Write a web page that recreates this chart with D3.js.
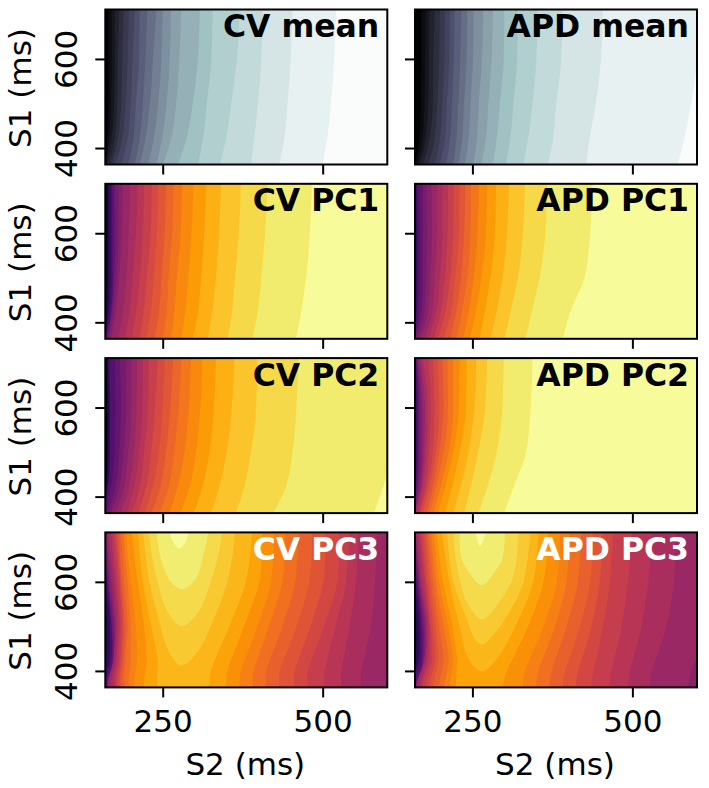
<!DOCTYPE html>
<html><head><meta charset="utf-8">
<style>html,body{margin:0;padding:0;background:#fff}svg{display:block}text{font-family:"DejaVu Sans",sans-serif}</style>
<script src="https://cdn.jsdelivr.net/npm/d3@7"></script>
</head><body><svg id="c" width="709" height="788"></svg>
<script>
const s2Ticks=[250,500], s1Ticks=[400,600];
const s2Domain=[160.3,601], s1Domain=[363,711];
// S1 values at which the S2 position of each contour was read
const s1Samples=[712,600,500,420,362];
const pc3LeftS1=[715,600,500,427,352];
const pc3RightS1=[352,400,500,600,715];

// monotone panels: one row per contour level, S2 at each s1Samples value
const cvMean=[[165,165,165,163,158],[170,170,169,166,160],[175,175,174,170,162],[182,180,179,175,166],[189,187,185,180,170],[197,195,192,187,175],[206,203,200,195,185],[214,213,208,204,196],[226,223,219,214,206],[240,235,230,223,214],[250,248,243,236,227],[263,261,256,249,240],[279,276,271,263,250],[308,305,297,287,274],[328,326,319,313,305],[370,366,357,349,339],[406,404,399,393,388],[453,450,445,440,432],[521,518,513,507,500]];
const apdMean=[[170,170,169,167,160],[177,176,175,172,163],[183,182,181,177,167],[191,189,188,183,173],[199,198,195,191,181],[207,206,203,199,191],[215,214,210,207,199],[222,221,218,215,209],[233,231,228,225,220],[242,241,237,234,228],[252,251,247,244,238],[267,265,260,257,251],[282,280,275,271,264],[300,299,293,288,282],[321,320,314,309,302],[352,350,344,337,329],[391,389,381,376,368],[454,451,443,433,428],[610,602,592,581,571]];
const cvPc1=[[161,161,161,160,155],[162,162,162,161,156],[164,164,164,162,157],[166,166,166,164,158],[168,168,168,165,159],[170,170,170,167,160],[172,172,172,169,161],[175,176,174,170,163],[181,181,178,173,166],[188,186,182,177,169],[199,197,193,188,180],[211,208,203,198,190],[221,219,214,208,201],[233,231,225,220,214],[243,241,236,231,224],[255,253,248,244,237],[267,265,259,256,250],[280,278,272,268,263],[298,295,290,285,279],[318,315,310,305,297],[341,338,333,327,320],[372,369,363,358,351],[414,410,404,398,390],[483,480,474,466,458]];
const apdPc1=[[160,160,160,160,153],[161,161,161,160,154],[161,162,162,161,154],[162,162,162,161,155],[162,163,163,162,155],[163,164,164,163,156],[167,168,168,166,158],[172,173,173,170,159],[178,179,178,175,163],[186,187,184,180,168],[195,195,191,187,174],[203,203,199,193,181],[212,211,207,200,189],[221,220,215,207,196],[230,229,223,216,204],[239,237,232,224,215],[248,247,242,233,225],[260,258,252,244,235],[273,271,264,255,246],[287,285,278,269,261],[307,304,297,287,278],[332,329,321,309,300],[367,364,355,342,333],[438,434,425,402,391]];
const cvPc2=[[161,162,162,160,152],[162,163,163,161,153],[163,164,164,162,154],[164,166,165,163,155],[165,167,167,164,155],[166,168,168,164,156],[175,176,175,169,160],[183,185,182,176,164],[193,193,189,182,169],[201,201,196,189,176],[210,209,205,197,184],[219,218,213,205,193],[228,227,221,214,201],[242,238,232,224,211],[253,250,244,234,221],[266,262,255,246,232],[279,275,268,259,245],[294,291,284,273,260],[312,309,302,292,277],[333,330,323,312,298],[362,358,350,338,325],[398,396,388,377,364],[462,459,453,442,422],[656,634,612,594,580]];
const apdPc2=[[160,160,160,159,150],[160,161,161,160,151],[160,161,161,160,151],[161,162,162,160,152],[161,162,162,161,152],[161,163,163,161,153],[162,165,165,162,154],[163,167,167,164,156],[164,170,170,166,158],[166,172,172,168,159],[168,176,175,170,161],[172,180,178,172,163],[180,185,182,176,166],[188,191,188,179,168],[195,198,193,183,172],[203,205,198,188,178],[211,212,205,193,183],[220,220,213,200,189],[230,229,220,207,196],[241,240,230,218,207],[256,253,244,231,220],[273,270,259,247,237],[299,297,288,273,259],[344,341,334,314,299]];

// PC3 panels: contour levels as [S2,S1] points or left/right branches
const cvPc3Low=[
 [[158,520],[160,505],[161,483],[160,455],[158,440]],
 [[158,560],[162,525],[163,483],[162,440],[158,412]],
 [[158,596],[164,540],[166,483],[165,427],[158,393]],
 [[158,623],[165,559],[168,483],[167,420],[158,382]],
 [[158,649],[163,600],[170,483],[168,412],[158,372]],
 [[158,671],[164,600],[171,483],[170,408],[159,363]],
 [[158,701],[166,600],[173,483],[171,404],[161,355]],
 [[161,717],[167,600],[175,483],[173,400],[164,355]]];
const cvPc3Left=[[162,170,176,173,169],[165,173,178,176,174],[169,176,181,178,178],[172,179,183,181,182],[175,182,186,184,184],[178,184,188,186,188],[181,186,191,189,191],[184,190,195,192,197],[188,195,200,200,203],[192,200,208,210,210],[201,211,221,225,225],[211,219,232,242,246]];
const cvPc3Right=[[593,604,635,666,682],[554,560,575,582,585],[523,529,542,552,556],[497,503,520,537,541],[471,477,502,523,526],[450,456,481,501,505],[426,433,459,479,484],[406,412,437,457,462],[385,392,416,437,442],[364,372,398,419,424],[344,351,377,401,406],[318,325,354,380,390]];
const cvPc3High=[
 [[219,715],[224,653],[229,600],[242,525],[260,442],[279,412],[302,438],[328,510],[351,600],[360,668],[363,715]],
 [[228,715],[234,653],[242,600],[258,532],[281,501],[305,531],[325,600],[338,668],[343,715]],
 [[240,715],[247,653],[263,600],[281,583],[302,608],[315,668],[322,715]],
 [[260,715],[266,690],[276,675],[286,690],[291,715]]];

const apdPc3Low=[
 [[157,520],[160,505],[161,483],[160,460],[157,445]],
 [[157,560],[162,525],[163,483],[162,440],[157,410]],
 [[157,600],[164,545],[166,483],[165,425],[157,393]],
 [[157,630],[164,565],[168,483],[166,420],[157,382]],
 [[157,655],[163,600],[170,483],[168,412],[157,372]],
 [[157,680],[164,600],[172,483],[170,408],[159,363]],
 [[157,705],[166,600],[174,483],[171,404],[161,355]],
 [[160,717],[167,600],[176,483],[173,400],[164,355]]];
const apdPc3Left=[[161,168,177,175,166],[163,170,179,177,170],[166,173,181,180,173],[168,176,183,183,176],[171,178,185,187,181],[175,181,189,192,187],[178,185,193,197,194],[181,189,198,205,202],[185,193,205,213,210],[189,198,212,220,219],[194,204,219,226,229]];
const apdPc3Right=[[579,592,623,647,657],[519,530,553,565,569],[486,496,514,525,530],[457,467,483,493,499],[428,439,454,465,470],[405,415,436,449,454],[384,395,418,434,439],[364,374,397,415,420],[343,353,379,397,402],[322,332,361,382,387],[291,304,337,361,369]];
const apdPc3High=[
 [[202,715],[214,600],[230,500],[244,427],[265,399],[288,427],[317,500],[345,600],[353,715]],
 [[210,715],[214,653],[220,600],[239,525],[254,472],[265,459],[280,476],[311,540],[330,600],[341,715]],
 [[220,715],[224,653],[231,600],[244,547],[265,516],[288,547],[311,600],[319,653],[322,715]],
 [[230,715],[233,653],[244,623],[265,592],[285,623],[297,653],[301,715]],
 [[253,715],[258,694],[262,680],[267,694],[273,715]]];

const boneT=[0,0.375,0.746,1];
const boneRGB=["#000000","#515171","#a6c8c8","#ffffff"];
const titles=[["CV mean","APD mean"],["CV PC1","APD PC1"],["CV PC2","APD PC2"],["CV PC3","APD PC3"]];

const bone=d3.scaleLinear().domain(boneT).range(boneRGB).interpolate(d3.interpolateRgb);
const colLeft=[105.3,415], colW=282, rowTop=[9.5,183.8,358.1,532.4], rowH=155;
const svg=d3.select("#c");

function pc3(low,left,right,high){
  const rows=left.map((r,i)=>{
    const pts=r.map((v,j)=>[v,pc3LeftS1[j]]);
    right[i].forEach((v,j)=>pts.push([v,pc3RightS1[j]]));
    return pts;
  });
  return low.concat(rows,high);
}
const inferno=d3.interpolateInferno;
const panels=[
 [{m:cvMean,c:bone,off:0},{m:apdMean,c:bone,off:0}],
 [{m:cvPc1,c:inferno,off:0},{m:apdPc1,c:inferno,off:0}],
 [{m:cvPc2,c:inferno,off:0},{m:apdPc2,c:inferno,off:0}],
 [{p:pc3(cvPc3Low,cvPc3Left,cvPc3Right,cvPc3High),c:inferno,off:2,white:1},
  {p:pc3(apdPc3Low,apdPc3Left,apdPc3Right,apdPc3High),c:inferno,off:2,white:1}]
];
const fs=31;

panels.forEach((row,r)=>row.forEach((pn,c)=>{
  const x=d3.scaleLinear().domain(s2Domain).range([0,colW]);
  const y=d3.scaleLinear().domain(s1Domain).range([rowH,0]);
  const g=svg.append("g").attr("transform",`translate(${colLeft[c]},${rowTop[r]})`);
  const id=`p${r}${c}`;
  svg.append("clipPath").attr("id",id).append("rect").attr("width",colW).attr("height",rowH);
  const body=g.append("g").attr("clip-path",`url(#${id})`);
  const top_k=(pn.m||pn.p).length+pn.off;
  const col=k=>pn.c(0.985*(k+pn.off)/top_k);
  body.append("rect").attr("width",colW).attr("height",rowH).attr("fill",col(0));
  if(pn.m){
    const area=d3.area().curve(d3.curveMonotoneY).y((d,i)=>y(s1Samples[i])).x0(d=>x(d)).x1(colW+20);
    pn.m.forEach((row_,i)=>body.append("path").attr("d",area(row_)).attr("fill",col(i+1)));
  } else {
    const line=d3.line().curve(d3.curveCatmullRom.alpha(0.5)).x(d=>x(d[0])).y(d=>y(d[1]));
    pn.p.forEach((pts,i)=>{
      const first=pts[0], last=pts[pts.length-1];
      let d=line(pts);
      const top=y(740), bot=y(340), far=x(720);
      if(last[1]<450) d+=`L${x(last[0])},${bot}L${far},${bot}L${far},${top}`;
      else d+=`L${x(last[0])},${top}`;
      d+=`L${x(first[0])},${top}Z`;
      body.append("path").attr("d",d).attr("fill",col(i+1));
    });
  }
  g.append("rect").attr("width",colW).attr("height",rowH).attr("fill","none").attr("stroke","#000").attr("stroke-width",2);
  g.append("text").attr("x",colW-8).attr("y",27.5).attr("text-anchor","end").attr("font-weight","bold").attr("font-size",31.5)
    .attr("fill",pn.white?"#fff":"#000").text(titles[r][c]);
  const ax=g.append("g").attr("transform",`translate(0,${rowH})`).call(d3.axisBottom(x).tickValues(s2Ticks).tickSize(10).tickPadding(13));
  ax.select(".domain").remove();
  ax.selectAll("line").attr("stroke","#000").attr("stroke-width",2);
  ax.selectAll("text").attr("font-size",fs).attr("fill","#000").attr("font-family",'"DejaVu Sans"').text(r===3?(d=>d):"");
  const ay=g.append("g").call(d3.axisLeft(y).tickValues(s1Ticks).tickSize(10));
  ay.select(".domain").remove();
  ay.selectAll("line").attr("stroke","#000").attr("stroke-width",2);
  ay.selectAll("text").attr("font-size",fs).attr("fill","#000").attr("font-family",'"DejaVu Sans"')
    .attr("text-anchor","middle").attr("transform","rotate(-90)").attr("x",0).attr("y",-28).attr("dy",0).text(c===0?(d=>d):"");
  if(c===0) g.append("text").attr("transform",`translate(-74,${rowH/2+1}) rotate(-90)`).attr("text-anchor","middle").attr("font-size",fs).text("S1 (ms)");
  if(r===3) g.append("text").attr("x",colW/2-1).attr("y",rowH+88).attr("text-anchor","middle").attr("font-size",fs).text("S2 (ms)");
}));
</script></body></html>
